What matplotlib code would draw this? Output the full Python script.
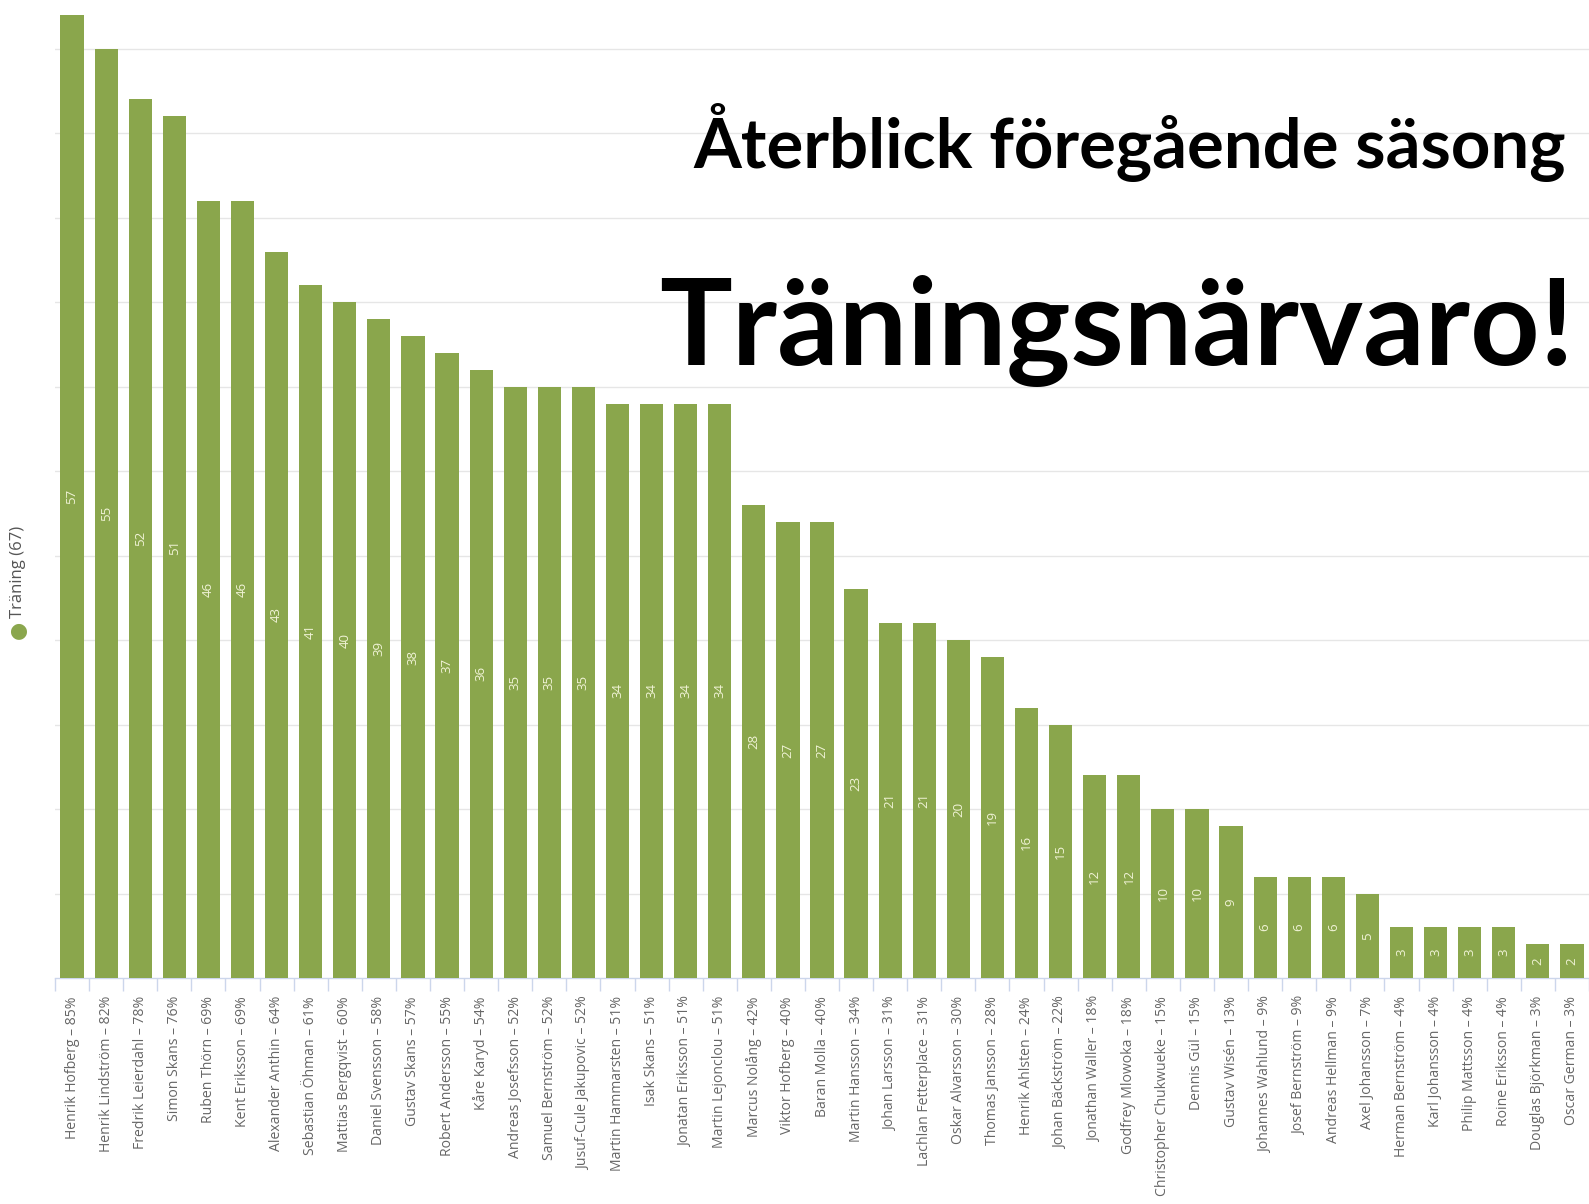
import matplotlib
matplotlib.use("Agg")
import matplotlib.pyplot as plt
import numpy as np

# ---------------------------------------------------------------------------
# Data
# ---------------------------------------------------------------------------
names = [
    "Henrik Hofberg", "Henrik Lindström", "Fredrik Leierdahl", "Simon Skans",
    "Ruben Thörn", "Kent Eriksson", "Alexander Anthin", "Sebastian Öhman",
    "Mattias Bergqvist", "Daniel Svensson", "Gustav Skans", "Robert Andersson",
    "Kåre Karyd", "Andreas Josefsson", "Samuel Bernström",
    "Jusuf-Cule Jakupovic", "Martin Hammarsten", "Isak Skans",
    "Jonatan Eriksson", "Martin Lejonclou", "Marcus Nolång", "Viktor Hofberg",
    "Baran Molla", "Martin Hansson", "Johan Larsson", "Lachlan Fetterplace",
    "Oskar Alvarsson", "Thomas Jansson", "Henrik Ahlsten", "Johan Bäckström",
    "Jonathan Waller", "Godfrey Mlowoka", "Christopher Chukwueke",
    "Dennis Gül", "Gustav Wisén", "Johannes Wahlund", "Josef Bernström",
    "Andreas Hellman", "Axel Johansson", "Herman Bernström", "Karl Johansson",
    "Philip Mattsson", "Roine Eriksson", "Douglas Björkman", "Oscar German",
]
percent = [85, 82, 78, 76, 69, 69, 64, 61, 60, 58, 57, 55, 54, 52, 52, 52,
           51, 51, 51, 51, 42, 40, 40, 34, 31, 31, 30, 28, 24, 22, 18, 18,
           15, 15, 13, 9, 9, 9, 7, 4, 4, 4, 4, 3, 3]
sessions = [57, 55, 52, 51, 46, 46, 43, 41, 40, 39, 38, 37, 36, 35, 35, 35,
            34, 34, 34, 34, 28, 27, 27, 23, 21, 21, 20, 19, 16, 15, 12, 12,
            10, 10, 9, 6, 6, 6, 5, 3, 3, 3, 3, 2, 2]
series_name = "Träning (67)"
title_small = "Återblick föregående säsong"
title_big = "Träningsnärvaro!"

BAR_COLOR = "#8aa64c"
TITLE_FONT = "Lato"
W, H = 1589, 1204

fig = plt.figure(figsize=(W / 100, H / 100), dpi=100)
fig.patch.set_facecolor("white")

# plot area in pixel terms (baseline at y=978, first category edge at x=55)
left_px, base_px = 55, 978
ax = fig.add_axes([left_px / W, (H - base_px) / H, 1 - left_px / W, base_px / H])

x = np.arange(len(names))
ax.bar(x, sessions, width=0.68, color=BAR_COLOR, zorder=3)

for xi, v in zip(x, sessions):
    ax.text(xi, v / 2, str(v), rotation=90, ha="center", va="center",
            fontsize=9.5, color="#f0f3d6", family="Open Sans", zorder=4)

ax.set_xlim(-0.5, (W - 72.5) / 34.2)
ax.set_ylim(0, 57 + 15 / 16.89)

ax.set_yticks(np.arange(5, 60, 5))
ax.yaxis.grid(True, color="#e6e6e6", linewidth=1, zorder=0)
ax.tick_params(axis="y", left=False, labelleft=False)

labels = [f"{n} \u2013 {p}%" for n, p in zip(names, percent)]
ax.set_xticks(x)
ax.set_xticklabels(labels, rotation=90, fontsize=10.1, color="#666666",
                   family="Open Sans", va="top", ha="center")
ax.tick_params(axis="x", which="major", length=0, pad=13)
ax.set_xticks(np.arange(-0.5, len(names), 1), minor=True)
ax.tick_params(axis="x", which="minor", length=9, color="#ccd6eb", width=1)

for side in ("top", "right", "left"):
    ax.spines[side].set_visible(False)
ax.spines["bottom"].set_color("#ccd6eb")
ax.spines["bottom"].set_linewidth(1)

# legend (rotated, left side)
fig.text(18 / W, 1 - 630 / H, "\u25CF", color=BAR_COLOR, fontsize=15,
         ha="center", va="center", rotation=90)
fig.text(18 / W, 1 - 618 / H, series_name, rotation=90, ha="center",
         va="bottom", fontsize=12, color="#555555", family="Open Sans")

# titles
t1 = fig.text(1566 / W, 1 - 168 / H, title_small, ha="right", va="baseline",
              fontsize=44, fontweight="bold", family=TITLE_FONT, color="black")
t2 = fig.text(1574 / W, 1 - 365 / H, title_big, ha="right", va="baseline",
              fontsize=108, fontweight="bold", family=TITLE_FONT, color="black")

# scale title fonts so they span about the same width as in the original slide
fig.canvas.draw()
renderer = fig.canvas.get_renderer()
for t, target in ((t1, 872), (t2, 915)):
    w = t.get_window_extent(renderer).width
    t.set_fontsize(t.get_fontsize() * target / w)

fig.savefig("out.png", dpi=100)
